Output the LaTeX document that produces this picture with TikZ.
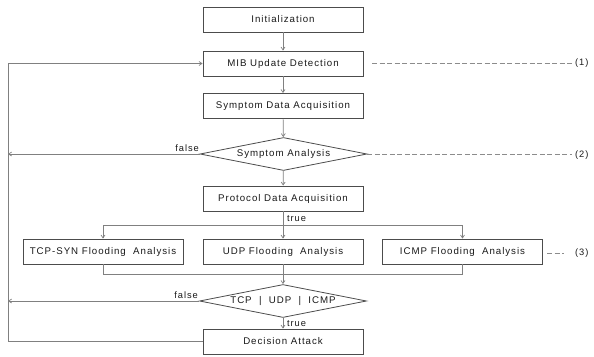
\documentclass[tikz,border=0pt]{standalone}
\usepackage{fontspec}
\newfontfamily\lblfont[LetterSpace=10]{Liberation Sans}
\usetikzlibrary{shapes.geometric,arrows.meta}
\begin{document}
\begin{tikzpicture}[x=1pt,y=-1pt,
  every node/.style={font=\lblfont\fontsize{9.7}{11}\selectfont, text=black!90},
  box/.style={draw=black!70, line width=0.8pt, minimum width=160pt, minimum height=25pt, inner sep=0pt},
  diam/.style={draw=black!70, line width=0.8pt, shape=diamond, minimum width=167pt, minimum height=33pt, inner sep=0pt},
  ln/.style={draw=black!50, line width=0.7pt},
  arr/.style={ln, -{Straight Barb[length=3pt,width=4pt]}},
  dsh/.style={draw=black!45, line width=0.7pt, dash pattern=on 5pt off 2.5pt},
  tag/.style={font=\lblfont\fontsize{9.3}{11}\selectfont, inner sep=0pt}
]
\useasboundingbox (0,0) rectangle (594,356);
\node[box] (init) at (283,19.5) {Initialization};
\node[box] (mib) at (283,63.5) {MIB Update Detection};
\node[box] (sda) at (283,106) {Symptom Data Acquisition};
\node[diam] (sa) at (283.5,154) {\makebox[0pt]{Symptom Analysis}};
\node[box] (pda) at (283,198.5) {Protocol Data Acquisition};
\node[box] (tcp) at (103,251.5) {TCP-SYN Flooding\ \ Analysis};
\node[box] (udp) at (283,251.5) {UDP Flooding\ \ Analysis};
\node[box] (icmp) at (462.5,251.5) {ICMP Flooding\ \ Analysis};
\node[diam] (tui) at (283,301) {\makebox[0pt]{TCP\ \ |\ \ UDP\ \ |\ \ ICMP}};
\node[box] (da) at (283,341.5) {Decision Attack};

\coordinate (loopB) at (8,341.5);
\coordinate (loopT) at (8,63.5);
\coordinate (f1) at (8,154);
\coordinate (f2) at (8,301);
\coordinate (brL) at (103,225);
\coordinate (brR) at (462.5,225);
\coordinate (mgL) at (103,274);
\coordinate (mgR) at (462.5,274);

\draw[arr] (init) -- (mib);
\draw[arr] (mib) -- (sda);
\draw[arr] (sda) -- (sa);
\draw[arr] (sa) -- (pda);
\draw[arr] (pda) -- (udp);
\draw[ln] (brL) -- (brR);
\draw[arr] (brL) -- (tcp);
\draw[arr] (brR) -- (icmp);
\draw[ln] (tcp.south) -- (mgL) -- (mgR) -- (icmp.south);
\draw[arr] (udp) -- (tui);
\draw[arr] (tui) -- (da);
\draw[arr] (da.west) -- (loopB) -- (loopT) -- (mib.west);
\draw[arr] (sa.west) -- (f1);
\draw[arr] (tui.west) -- (f2);

\node[tag, anchor=south east] (fl1) at (199,152) {false};
\node[tag, anchor=south east] (fl2) at (198,299) {false};
\node[tag, anchor=west] (tr1) at (287,219) {true};
\node[tag, anchor=west] (tr2) at (287,323.5) {true};

\coordinate (d1s) at (372,63.5);
\coordinate (d1e) at (572,63.5);
\coordinate (d2e) at (572,154);
\coordinate (d3s) at (547,253);
\coordinate (d3e) at (564,253);
\draw[dsh] (d1s) -- (d1e);
\draw[dsh] (sa.east) -- (d2e);
\draw[dsh] (d3s) -- (d3e);
\node[tag, anchor=west] (t1) at (575,63.5) {(1)};
\node[tag, anchor=west] (t2) at (575,155) {(2)};
\node[tag, anchor=west] (t3) at (575,253) {(3)};
\end{tikzpicture}
\end{document}
